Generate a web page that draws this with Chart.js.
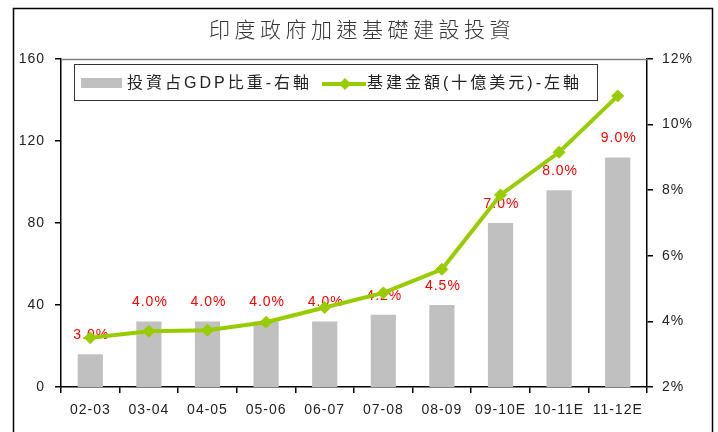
<!DOCTYPE html>
<html>
<head>
<meta charset="utf-8">
<title>印度政府加速基礎建設投資</title>
<script src="https://cdn.jsdelivr.net/npm/chart.js@4/dist/chart.umd.min.js"></script>
<style>
    html, body { margin: 0; padding: 0; background: #ffffff; }
    canvas { display: block; }
</style>
</head>
<body>
<canvas id="graficoInfra" width="718" height="432"></canvas>
<script>
// ============================================
// DADOS
// ============================================
const categorias = ['02-03', '03-04', '04-05', '05-06', '06-07', '07-08', '08-09', '09-10E', '10-11E', '11-12E'];
const participacaoPIB = [3.0, 4.0, 4.0, 4.0, 4.0, 4.2, 4.5, 7.0, 8.0, 9.0];          // % (eixo direito)
const investimento = [24, 27.2, 27.7, 31.6, 38.8, 45.9, 57.4, 93.7, 114.5, 142];     // bilhões US$ (eixo esquerdo)
const ticksEsquerda = [0, 40, 80, 120, 160];
const ticksDireita = [2, 4, 6, 8, 10, 12];

const titulo = '印度政府加速基礎建設投資';
const legendaBarras = '投資占GDP比重-右軸';
const legendaLinha = '基建金額(十億美元)-左軸';

const FONTE = '"Liberation Sans", "Noto Sans CJK TC", sans-serif';
const VERDE = '#99cc00';
const CINZA = '#c0c0c0';

// ========== PLUGIN: MOLDURA, TÍTULO E LEGENDA ==========
const molduraPlugin = {
    id: 'moldura',
    beforeDraw(chart) {
        const ctx = chart.ctx;
        ctx.letterSpacing = '1px';
    },
    afterDraw(chart) {
        const ctx = chart.ctx;
        const area = chart.chartArea;
        ctx.save();

        // moldura externa
        ctx.strokeStyle = '#000000';
        ctx.lineWidth = 1.5;
        ctx.strokeRect(13.5, 8.5, 699, 440);

        // borda superior da área do gráfico
        ctx.strokeStyle = '#808080';
        ctx.lineWidth = 1.5;
        ctx.beginPath();
        ctx.moveTo(area.left, area.top + 0.5);
        ctx.lineTo(area.right, area.top + 0.5);
        ctx.stroke();

        // título
        ctx.fillStyle = '#333333';
        ctx.font = '300 21px "Noto Sans CJK TC", sans-serif';
        ctx.letterSpacing = '4.5px';
        ctx.textAlign = 'center';
        ctx.textBaseline = 'middle';
        ctx.fillText(titulo, 362, 29);

        // caixa da legenda
        ctx.fillStyle = '#ffffff';
        ctx.fillRect(74, 64, 524, 36);
        ctx.strokeStyle = '#333333';
        ctx.lineWidth = 1;
        ctx.strokeRect(74.5, 64.5, 523, 36);

        ctx.fillStyle = CINZA;
        ctx.fillRect(81, 78, 41, 10);

        ctx.strokeStyle = VERDE;
        ctx.lineWidth = 4;
        ctx.beginPath();
        ctx.moveTo(322, 84);
        ctx.lineTo(366, 84);
        ctx.stroke();
        ctx.fillStyle = VERDE;
        ctx.beginPath();
        ctx.moveTo(345, 78);
        ctx.lineTo(351, 84);
        ctx.lineTo(345, 90);
        ctx.lineTo(339, 84);
        ctx.closePath();
        ctx.fill();

        ctx.fillStyle = '#222222';
        ctx.font = '16px ' + FONTE;
        ctx.letterSpacing = '3px';
        ctx.textAlign = 'left';
        ctx.textBaseline = 'middle';
        ctx.fillText(legendaBarras, 127, 84);
        ctx.fillText(legendaLinha, 367, 84);

        ctx.restore();
    }
};

// ========== PLUGIN: RÓTULOS DAS BARRAS ==========
const rotulosPlugin = {
    id: 'rotulos',
    afterDatasetDraw(chart, args) {
        if (args.index !== 0) return;
        const ctx = chart.ctx;
        const meta = chart.getDatasetMeta(0);
        ctx.save();
        ctx.fillStyle = '#ff0000';
        ctx.font = '14px ' + FONTE;
        ctx.letterSpacing = '1px';
        ctx.textAlign = 'center';
        ctx.textBaseline = 'middle';
        meta.data.forEach((barra, i) => {
            ctx.fillText(participacaoPIB[i].toFixed(1) + '%', barra.x + 1, barra.y - 19);
        });
        ctx.restore();
    }
};

// ========== GRÁFICO ==========
const ctxInfra = document.getElementById('graficoInfra').getContext('2d');
const eixoFonte = { family: FONTE, size: 14 };

new Chart(ctxInfra, {
    type: 'bar',
    data: {
        labels: categorias,
        datasets: [
            {
                type: 'bar',
                label: legendaBarras,
                data: participacaoPIB,
                yAxisID: 'yDireita',
                backgroundColor: CINZA,
                borderWidth: 0,
                barPercentage: 0.43,
                categoryPercentage: 1,
                order: 2
            },
            {
                type: 'line',
                label: legendaLinha,
                data: investimento,
                yAxisID: 'yEsquerda',
                borderColor: VERDE,
                backgroundColor: VERDE,
                borderWidth: 4,
                pointStyle: 'rectRot',
                pointRadius: 6,
                pointBorderWidth: 1,
                tension: 0,
                order: 1
            }
        ]
    },
    options: {
        responsive: false,
        animation: false,
        devicePixelRatio: 1,
        layout: { padding: { top: 59, left: 0, right: 0, bottom: 0 } },
        plugins: {
            legend: { display: false },
            title: { display: false },
            tooltip: { enabled: false }
        },
        scales: {
            x: {
                offset: true,
                grid: { display: true, drawOnChartArea: false, offset: true, tickLength: 6, color: '#000000', lineWidth: 1.5 },
                border: { color: '#000000', width: 1.5 },
                ticks: { font: eixoFonte, color: '#222222', padding: 9, maxRotation: 0, autoSkip: false },
                afterFit(scale) { scale.height = 45; }
            },
            yEsquerda: {
                position: 'left',
                min: ticksEsquerda[0],
                max: ticksEsquerda[ticksEsquerda.length - 1],
                grid: { display: true, drawOnChartArea: false, tickLength: 6, color: '#000000', lineWidth: 1.5 },
                border: { color: '#000000', width: 1.5 },
                ticks: { stepSize: ticksEsquerda[1] - ticksEsquerda[0], font: eixoFonte, color: '#222222', padding: 10 },
                afterFit(scale) { scale.width = 61; }
            },
            yDireita: {
                position: 'right',
                min: ticksDireita[0],
                max: ticksDireita[ticksDireita.length - 1],
                grid: { display: true, drawOnChartArea: false, tickLength: 6, color: '#000000', lineWidth: 1.5 },
                border: { color: '#000000', width: 1.5 },
                ticks: {
                    stepSize: ticksDireita[1] - ticksDireita[0],
                    font: eixoFonte,
                    color: '#222222',
                    padding: 9,
                    callback: v => v + '%'
                },
                afterFit(scale) { scale.width = 71; }
            }
        }
    },
    plugins: [molduraPlugin, rotulosPlugin]
});
</script>
</body>
</html>
